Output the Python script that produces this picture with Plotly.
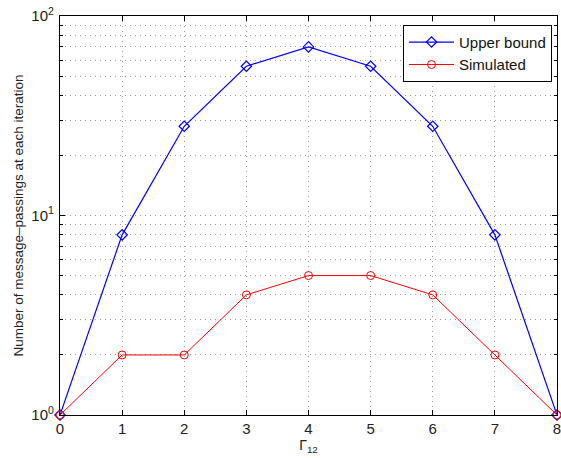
import plotly.graph_objects as go

x_vals = [0, 1, 2, 3, 4, 5, 6, 7, 8]
upper_bound = [1, 8, 28, 56, 70, 56, 28, 8, 1]
simulated = [1, 2, 2, 4, 5, 5, 4, 2, 1]
y_tickvals = [1, 10, 100]
y_ticktext = ["10<sup>0</sup>", "10<sup>1</sup>", "10<sup>2</sup>"]
y_minor_vals = [2, 3, 4, 5, 6, 7, 8, 9, 20, 30, 40, 50, 60, 70, 80, 90]

fig = go.Figure()
fig.add_trace(go.Scatter(
    x=x_vals, y=upper_bound, name="Upper bound", mode="lines+markers",
    line=dict(color="#0000ff", width=1.2),
    marker=dict(symbol="diamond-open", size=8, color="#0000ff", line=dict(width=1.2)),
    cliponaxis=False))
fig.add_trace(go.Scatter(
    x=x_vals, y=simulated, name="Simulated", mode="lines+markers",
    line=dict(color="#ff0000", width=1),
    marker=dict(symbol="circle-open", size=8, color="#ff0000", line=dict(width=1)),
    cliponaxis=False))

grid_color = "#9a9a9a"
grid_dash = "1px,4px"

axis_common = dict(
    showline=True, linecolor="black", linewidth=1.2, mirror="ticks",
    ticks="inside", tickcolor="black", ticklen=5,
    showgrid=True, gridcolor=grid_color, griddash=grid_dash, gridwidth=1,
    zeroline=False, tickfont=dict(size=15, color="#222222"),
    ticklabeloverflow="allow",
)

fig.update_layout(
    width=561, height=458,
    margin=dict(l=60, r=4, t=16, b=43, autoexpand=False),
    paper_bgcolor="white", plot_bgcolor="white",
    font=dict(family="Liberation Sans, Arial, sans-serif", color="#222222"),
    xaxis=dict(range=[0, 8], tickvals=x_vals,
               title=dict(text="Γ<sub>12</sub>", font=dict(size=14), standoff=3),
               **axis_common),
    yaxis=dict(type="log", range=[0, 2], tickvals=y_tickvals, ticktext=y_ticktext,
               ticklabelstandoff=2,
               title=dict(text="Number of message–passings at each iteration",
                          font=dict(size=13.5), standoff=4),
               minor=dict(ticks="inside", ticklen=3, tickcolor="black", showgrid=True,
                          gridcolor=grid_color, griddash=grid_dash, gridwidth=1,
                          tickvals=y_minor_vals),
               **axis_common),
    legend=dict(x=0.99, y=0.978, xanchor="right", yanchor="top",
                bgcolor="white", bordercolor="black", borderwidth=1,
                font=dict(size=15, color="#111111"), itemwidth=45,
                tracegroupgap=0),
    showlegend=True,
)

fig.write_html("out.html", config={"displayModeBar": False},
               post_script="document.body.style.margin='0';document.body.style.padding='0';")
